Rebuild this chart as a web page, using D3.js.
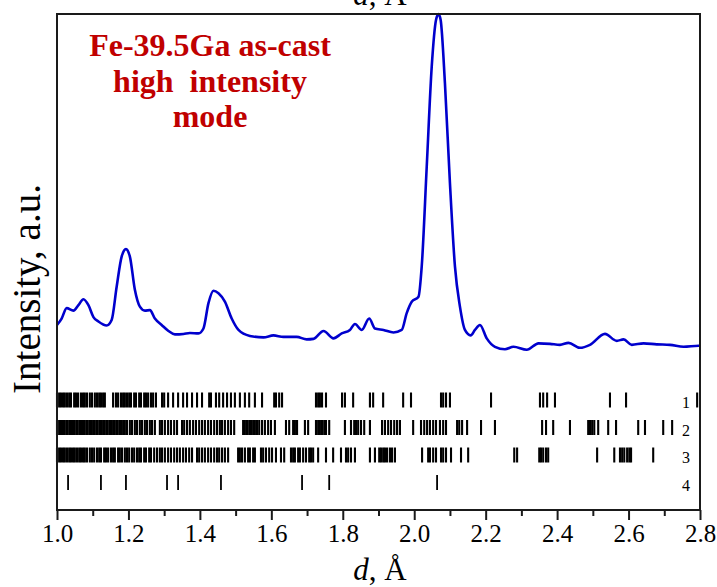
<!DOCTYPE html>
<html lang="en">
<head>
  <meta charset="UTF-8">
  <title>fe-ga-xrd</title>
  <script src="https://cdn.jsdelivr.net/npm/d3@7"></script>
  <style>
    body { margin: 0; background: #fff; }
    text { font-family: "Liberation Serif", "Times New Roman", serif; }
  </style>
</head>
<body>
<script>
// measured profile: d (Angstrom) and intensity (a.u., max = 100)
let profileD = [1.000, 1.013, 1.027, 1.046, 1.060, 1.074, 1.088, 1.102, 1.116, 1.139,
  1.153, 1.167, 1.181, 1.193, 1.204, 1.218, 1.232, 1.246, 1.260, 1.274,
  1.293, 1.312, 1.330, 1.354, 1.372, 1.396, 1.410, 1.424, 1.438, 1.452,
  1.470, 1.489, 1.508, 1.540, 1.578, 1.606, 1.634, 1.671, 1.699, 1.718,
  1.746, 1.774, 1.797, 1.820, 1.834, 1.853, 1.874, 1.890, 1.914, 1.942,
  1.965, 1.979, 1.993, 2.012, 2.021, 2.035, 2.049, 2.061, 2.068, 2.074,
  2.086, 2.100, 2.114, 2.128, 2.142, 2.158, 2.170, 2.184, 2.203, 2.226,
  2.254, 2.278, 2.315, 2.348, 2.380, 2.408, 2.432, 2.464, 2.492, 2.534,
  2.567, 2.586, 2.609, 2.642, 2.679, 2.716, 2.754, 2.796, 2.800];
let profileI = [37.3, 38.6, 40.7, 40.2, 41.3, 42.5, 41.3, 38.9, 38.0, 37.2,
  38.3, 45.0, 51.1, 52.6, 51.1, 44.4, 41.0, 40.2, 40.3, 38.6,
  37.3, 36.1, 35.4, 35.5, 35.7, 35.6, 36.6, 41.7, 44.2, 43.7,
  42.0, 38.6, 36.3, 35.1, 34.8, 35.2, 34.9, 34.9, 34.4, 34.5,
  36.1, 34.6, 35.6, 36.3, 37.5, 36.3, 38.6, 36.6, 36.3, 35.8,
  36.3, 39.7, 42.0, 43.0, 49.1, 69.2, 89.4, 98.8, 100, 98.8,
  86.0, 65.9, 49.1, 41.0, 36.3, 35.2, 36.3, 37.3, 34.6, 32.9,
  32.4, 32.9, 32.3, 33.6, 33.5, 33.3, 33.7, 32.7, 33.3, 35.5,
  34.1, 34.4, 33.3, 33.6, 33.4, 33.3, 32.9, 33.1, 33.1];

// reflection positions (d, Angstrom) for the four phases
let phase1 = [1.000, 1.006, 1.011, 1.017, 1.022, 1.028, 1.034, 1.039, 1.048, 1.053, 1.059,
  1.067, 1.073, 1.078, 1.084, 1.092, 1.098, 1.106, 1.112, 1.118, 1.123, 1.129, 1.134,
  1.157, 1.165, 1.171, 1.179, 1.185, 1.190, 1.196, 1.202, 1.207, 1.216, 1.221, 1.230,
  1.235, 1.244, 1.249, 1.255, 1.263, 1.269, 1.277, 1.294, 1.300, 1.311, 1.325, 1.339,
  1.353, 1.364, 1.378, 1.392, 1.406, 1.426, 1.431, 1.445, 1.454, 1.465, 1.476, 1.487,
  1.498, 1.512, 1.526, 1.538, 1.554, 1.574, 1.608, 1.613, 1.622, 1.630, 1.725, 1.731,
  1.736, 1.742, 1.753, 1.798, 1.806, 1.829, 1.876, 1.885, 1.913, 1.969, 1.991, 2.075,
  2.081, 2.089, 2.100, 2.215, 2.352, 2.361, 2.372, 2.394, 2.548, 2.593, 2.792];
let phase2 = [1.000, 1.006, 1.011, 1.017, 1.022, 1.028, 1.034, 1.039, 1.045, 1.050, 1.056,
  1.062, 1.067, 1.073, 1.078, 1.084, 1.090, 1.095, 1.101, 1.106, 1.112, 1.118, 1.123,
  1.129, 1.134, 1.140, 1.146, 1.151, 1.157, 1.162, 1.168, 1.174, 1.179, 1.185, 1.190,
  1.196, 1.204, 1.210, 1.218, 1.224, 1.232, 1.238, 1.246, 1.252, 1.260, 1.266, 1.274,
  1.288, 1.294, 1.302, 1.311, 1.319, 1.328, 1.336, 1.350, 1.356, 1.364, 1.372, 1.381,
  1.389, 1.398, 1.406, 1.414, 1.423, 1.431, 1.440, 1.448, 1.456, 1.462, 1.470, 1.479,
  1.487, 1.496, 1.521, 1.526, 1.532, 1.538, 1.543, 1.549, 1.554, 1.560, 1.566, 1.574,
  1.582, 1.591, 1.599, 1.610, 1.641, 1.650, 1.661, 1.666, 1.672, 1.694, 1.703, 1.725,
  1.731, 1.736, 1.742, 1.748, 1.753, 1.762, 1.806, 1.823, 1.832, 1.837, 1.843, 1.851,
  1.860, 1.876, 1.910, 1.918, 1.927, 1.935, 1.944, 1.952, 1.960, 1.997, 2.019, 2.028,
  2.036, 2.044, 2.053, 2.061, 2.072, 2.081, 2.089, 2.120, 2.126, 2.134, 2.148, 2.187,
  2.226, 2.358, 2.369, 2.389, 2.436, 2.487, 2.492, 2.498, 2.504, 2.515, 2.543, 2.565,
  2.627, 2.646, 2.697, 2.722];
let phase3 = [1.000, 1.006, 1.011, 1.017, 1.022, 1.028, 1.034, 1.039, 1.045, 1.050, 1.056,
  1.062, 1.067, 1.073, 1.078, 1.084, 1.092, 1.098, 1.104, 1.112, 1.118, 1.123, 1.132,
  1.137, 1.143, 1.151, 1.157, 1.162, 1.171, 1.176, 1.182, 1.190, 1.196, 1.202, 1.210,
  1.216, 1.224, 1.230, 1.235, 1.244, 1.249, 1.258, 1.263, 1.272, 1.280, 1.288, 1.294,
  1.302, 1.311, 1.319, 1.328, 1.336, 1.344, 1.353, 1.361, 1.370, 1.378, 1.392, 1.398,
  1.406, 1.414, 1.423, 1.431, 1.440, 1.448, 1.454, 1.462, 1.470, 1.479, 1.507, 1.512,
  1.518, 1.526, 1.535, 1.540, 1.549, 1.554, 1.571, 1.577, 1.585, 1.594, 1.602, 1.613,
  1.627, 1.636, 1.655, 1.661, 1.666, 1.675, 1.680, 1.689, 1.697, 1.706, 1.711, 1.717,
  1.731, 1.753, 1.773, 1.795, 1.809, 1.815, 1.823, 1.834, 1.876, 1.890, 1.902, 1.907,
  1.913, 1.918, 1.924, 1.932, 1.938, 1.946, 2.022, 2.039, 2.044, 2.053, 2.061, 2.075,
  2.081, 2.089, 2.103, 2.131, 2.151, 2.280, 2.288, 2.350, 2.355, 2.361, 2.369, 2.375,
  2.512, 2.560, 2.576, 2.582, 2.588, 2.596, 2.602, 2.607, 2.669];
let phase4 = [1.031, 1.123, 1.193, 1.308, 1.339, 1.459, 1.686, 1.762, 2.064];

let phaseNames = ['1', '2', '3', '4'];
let xTicks = [1.0, 1.2, 1.4, 1.6, 1.8, 2.0, 2.2, 2.4, 2.6, 2.8];
let titleLines = ['Fe-39.5Ga as-cast', 'high  intensity', 'mode'];

let width = 717;
let height = 587;
let margins = {top: 14, left: 57, right: 17, bottom: 77};

let svg = d3.select('body')
  .append('svg')
  .attr('width', width)
  .attr('height', height);

let x = d3.scaleLinear()
  .domain([1.0, 2.8])
  .range([margins.left, width - margins.right]);

let y = d3.scaleLinear()
  .domain([0, 100])
  .range([height - margins.bottom, margins.top]);

let rowY = d3.scalePoint()
  .domain(phaseNames)
  .range([400, 482.5]);

// reflection markers
let phases = [phase1, phase2, phase3, phase4];
phases.forEach(function (list, i) {
  svg.append('g')
    .attr('class', 'phase _' + i)
    .selectAll('line')
    .data(list)
    .enter()
    .append('line')
    .attr('x1', function (d) { return x(d); })
    .attr('x2', function (d) { return x(d); })
    .attr('y1', rowY(phaseNames[i]) - 7.5)
    .attr('y2', rowY(phaseNames[i]) + 7.5)
    .attr('stroke', '#000')
    .attr('stroke-width', i === 3 ? 1.8 : 2.1);
});

svg.append('g')
  .selectAll('text')
  .data(phaseNames)
  .enter()
  .append('text')
  .attr('x', 686)
  .attr('y', function (d) { return rowY(d) + 8; })
  .attr('text-anchor', 'middle')
  .attr('font-size', 16)
  .text(function (d) { return d; });

// intensity profile
let line = d3.line()
  .x(function (d) { return x(d[0]); })
  .y(function (d) { return y(d[1]); })
  .curve(d3.curveMonotoneX);

svg.append('path')
  .datum(d3.zip(profileD, profileI))
  .attr('fill', 'none')
  .attr('stroke', '#0000cd')
  .attr('stroke-width', 2.6)
  .attr('stroke-linejoin', 'round')
  .attr('d', line);

// frame
svg.append('rect')
  .attr('x', margins.left)
  .attr('y', margins.top)
  .attr('width', width - margins.left - margins.right)
  .attr('height', height - margins.top - margins.bottom)
  .attr('fill', 'none')
  .attr('stroke', '#1a1a1a')
  .attr('stroke-width', 2);

// bottom axis with minor ticks
let minorTicks = x.ticks(18).filter(function (t) {
  return xTicks.indexOf(+t.toFixed(1)) < 0;
});

let axisG = svg.append('g')
  .attr('transform', 'translate(0,' + (height - margins.bottom) + ')');

axisG.append('g')
  .call(d3.axisBottom(x).tickValues(minorTicks).tickSize(6).tickFormat(''))
  .call(function (g) { g.select('.domain').remove(); })
  .selectAll('line')
  .attr('stroke', '#1a1a1a')
  .attr('stroke-width', 2);

axisG.append('g')
  .call(d3.axisBottom(x).tickValues(xTicks).tickSize(10).tickPadding(4).tickFormat(d3.format('.1f')))
  .call(function (g) { g.select('.domain').remove(); })
  .call(function (g) {
    g.selectAll('line').attr('stroke', '#1a1a1a').attr('stroke-width', 2);
    g.selectAll('text')
      .attr('font-family', '"Liberation Serif", serif')
      .attr('font-size', 25)
      .attr('fill', '#000');
  });

// axis titles (the top copy is cut by the page edge, as in the source figure)
function dTitle(yPos) {
  let t = svg.append('text')
    .attr('x', 380)
    .attr('y', yPos)
    .attr('text-anchor', 'middle')
    .attr('font-size', 31);
  t.append('tspan').attr('font-style', 'italic').text('d');
  t.append('tspan').text(', Å');
}
dTitle(580);
dTitle(5);

svg.append('text')
  .attr('transform', 'translate(40,289) rotate(-90)')
  .attr('text-anchor', 'middle')
  .attr('font-size', 39)
  .text('Intensity, a.u.');

// sample label
svg.append('g')
  .selectAll('text')
  .data(titleLines)
  .enter()
  .append('text')
  .attr('x', 210)
  .attr('y', function (d, i) { return 56 + i * 35.5; })
  .attr('text-anchor', 'middle')
  .attr('font-size', 32)
  .attr('font-weight', 'bold')
  .attr('fill', '#c00000')
  .style('white-space', 'pre')
  .text(function (d) { return d; });
</script>
</body>
</html>
